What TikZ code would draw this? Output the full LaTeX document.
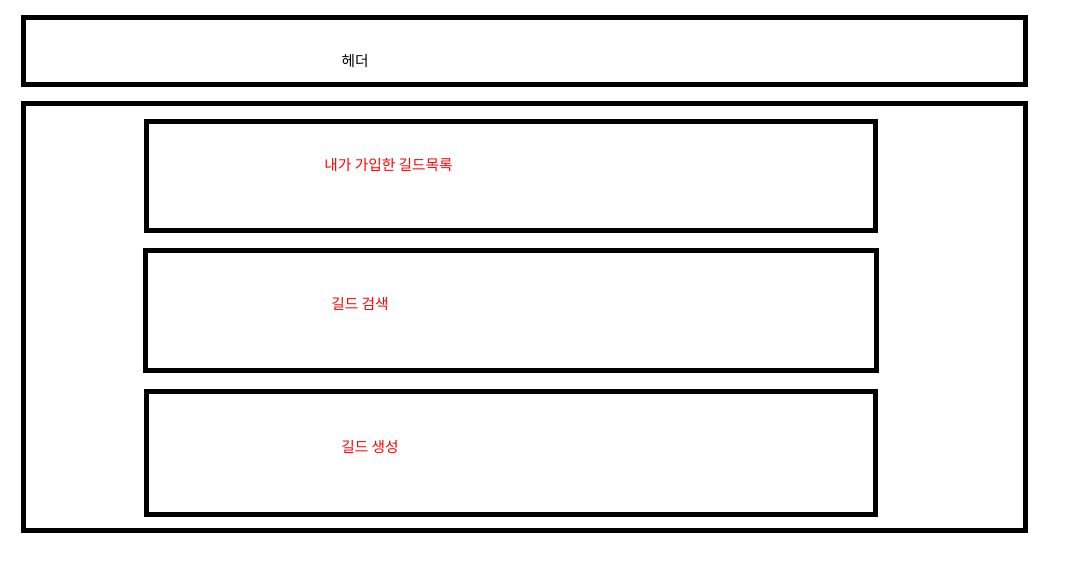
\documentclass[tikz,border=0pt]{standalone}
\usepackage{fontspec}
\newfontfamily\kofont{Noto Sans CJK KR}
\usetikzlibrary{positioning}

\begin{document}
\begin{tikzpicture}[
			x=0.75pt, y=-0.75pt,
			box/.style={draw, line width=3.75pt},
			label/.style={font={\kofont\fontsize{11pt}{13pt}\selectfont}, inner sep=0pt},
			part/.style={label, text=red}
	]
	\useasboundingbox (0,0) rectangle (1074,579);
% >> frame
	\draw[box] (23.5,17.5) rectangle (1025,84);
	\draw[box] (23.5,103.5) rectangle (1025,530);
	\draw[box] (146.5,121.5) rectangle (875.5,230);
	\draw[box] (145.5,250) rectangle (876,370);
	\draw[box] (146.5,391.5) rectangle (875.5,514);
% >> texts
	\node[label] (header) at (355,61.5) {헤더};
	\node[part] (myguilds) at (388.5,165.5) {내가 가입한 길드목록};
	\node[part] (search) at (360,303.5) {길드 검색};
	\node[part] (create) at (370,446.5) {길드 생성};
\end{tikzpicture}
\end{document}
